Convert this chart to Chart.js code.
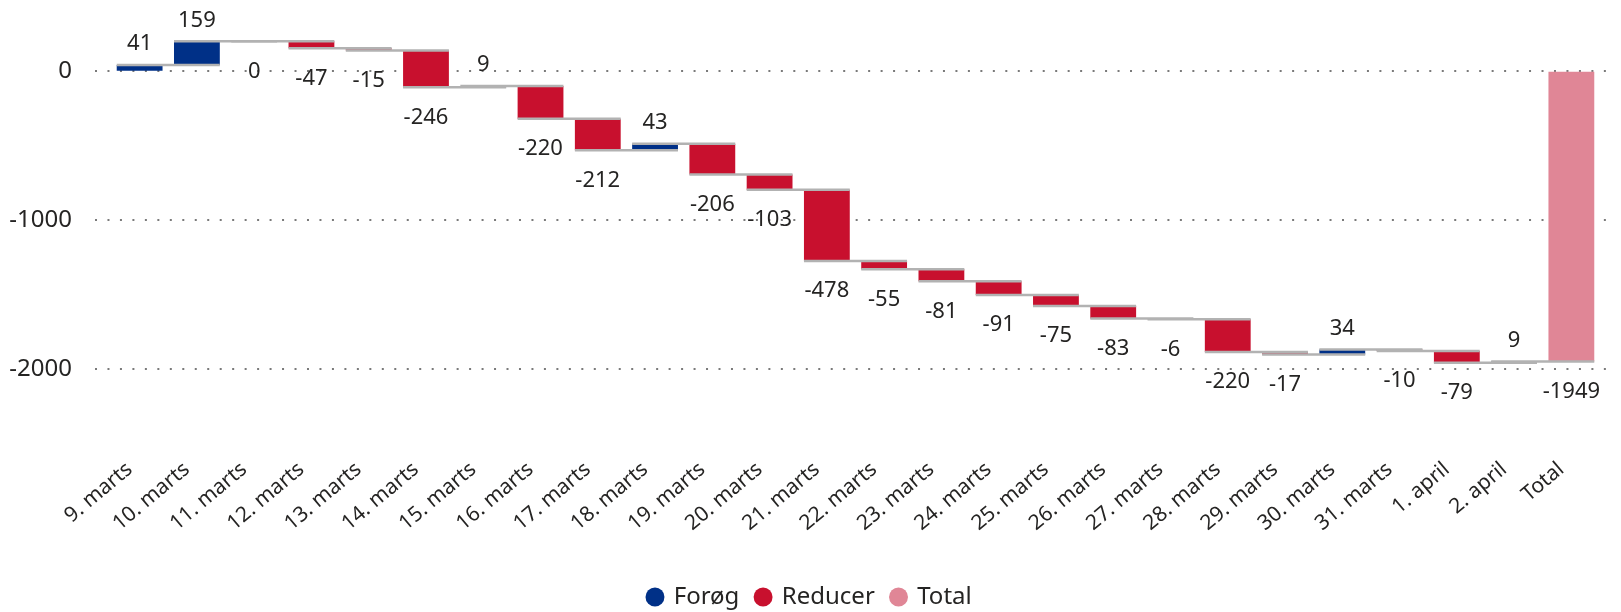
<!DOCTYPE html>
<html>
<head>
<meta charset="utf-8">
<script src="https://cdn.jsdelivr.net/npm/chart.js@4/dist/chart.umd.min.js"></script>
<style>
  html, body { margin: 0; padding: 0; background: #ffffff; }
  #wrap { width: 1621px; height: 612px; }
</style>
</head>
<body>
<div id="wrap"><canvas id="c" width="1621" height="612"></canvas></div>
<script>
// ---- data ----
const categories = ['9. marts','10. marts','11. marts','12. marts','13. marts','14. marts','15. marts',
  '16. marts','17. marts','18. marts','19. marts','20. marts','21. marts','22. marts','23. marts',
  '24. marts','25. marts','26. marts','27. marts','28. marts','29. marts','30. marts','31. marts',
  '1. april','2. april','Total'];
const changes = [41,159,0,-47,-15,-246,9,-220,-212,43,-206,-103,-478,-55,-81,-91,-75,-83,-6,-220,-17,34,-10,-79,9];
const totalValue = -1949;
const yTickValues = [0, -1000, -2000];
const seriesNames = ['Forøg', 'Reducer', 'Total'];

// ---- build waterfall ranges ----
const starts = [], ends = [];
let run = 0;
changes.forEach(v => { starts.push(run); run += v; ends.push(run); });

const incData = categories.map((c, i) => (i < changes.length && changes[i] > 0) ? [starts[i], ends[i]] : null);
const decData = categories.map((c, i) => (i < changes.length && changes[i] <= 0) ? [starts[i], ends[i]] : null);
const totData = categories.map((c, i) => (i === categories.length - 1) ? [0, totalValue] : null);
const labelValues = changes.concat([totalValue]);

const FONT = "'Noto Sans', 'Open Sans', sans-serif";
const TEXT = '#252423';
const EDGE = '#b2b2b2';

function barElement(chart, i) {
  for (let d = 0; d < chart.data.datasets.length; d++) {
    if (chart.data.datasets[d].data[i] != null) return chart.getDatasetMeta(d).data[i];
  }
  return null;
}

const wfPlugin = {
  id: 'waterfallExtras',
  afterLayout(chart) {
    // centre the legend row like the reference
    if (chart.legend) { chart.legend.left += 10; chart.legend.right += 10; }
  },
  beforeDatasetsDraw(chart) {
    const ctx = chart.ctx, y = chart.scales.y;
    ctx.save();
    ctx.strokeStyle = '#7a7a7a';
    ctx.lineWidth = 2;
    ctx.setLineDash([2, 10.47]);
    y.ticks.forEach(t => {
      const py = Math.round(y.getPixelForValue(t.value));
      ctx.beginPath();
      ctx.moveTo(95, py);
      ctx.lineTo(1615, py);
      ctx.stroke();
    });
    ctx.restore();
  },
  afterDatasetsDraw(chart) {
    const ctx = chart.ctx, y = chart.scales.y;
    // grey step lines: level reached after each bar, from this bar to the next one
    ctx.save();
    ctx.strokeStyle = EDGE;
    ctx.lineWidth = 2.5;
    for (let i = 0; i < changes.length; i++) {
      const a = barElement(chart, i), b = barElement(chart, i + 1);
      if (!a || !b) continue;
      const py = y.getPixelForValue(ends[i]);
      ctx.beginPath();
      ctx.moveTo(a.x - a.width / 2, py);
      ctx.lineTo(b.x + b.width / 2, py);
      ctx.stroke();
    }
    ctx.restore();
    // value labels
    ctx.save();
    ctx.font = "22px " + FONT;
    ctx.fillStyle = TEXT;
    ctx.textAlign = 'center';
    ctx.textBaseline = 'middle';
    chart.data.datasets.forEach((ds, di) => {
      const meta = chart.getDatasetMeta(di);
      meta.data.forEach((el, i) => {
        if (ds.data[i] == null) return;
        const v = labelValues[i];
        const top = Math.min(el.y, el.base), bot = Math.max(el.y, el.base);
        const py = v > 0 ? top - 21 : bot + 30;
        ctx.fillText(String(v), el.x, py);
      });
    });
    ctx.restore();
  }
};

const common = { grouped: false, borderWidth: 0, barPercentage: 0.8, categoryPercentage: 1 };

new Chart(document.getElementById('c'), {
  type: 'bar',
  data: {
    labels: categories,
    datasets: [
      Object.assign({ label: seriesNames[0], data: incData, backgroundColor: '#003087' }, common),
      Object.assign({ label: seriesNames[1], data: decData, backgroundColor: '#c8102e' }, common),
      Object.assign({ label: seriesNames[2], data: totData, backgroundColor: '#e08696' }, common)
    ]
  },
  options: {
    responsive: false,
    animation: false,
    layout: { padding: { top: 0, right: 21, left: 0, bottom: -7 } },
    plugins: {
      tooltip: { enabled: false },
      legend: {
        position: 'bottom',
        labels: {
          usePointStyle: true, pointStyle: 'circle',
          boxWidth: 13.4, boxHeight: 13.4,
          padding: 17,
          color: TEXT,
          font: { size: 24, family: FONT },
          generateLabels(chart) {
            return Chart.defaults.plugins.legend.labels.generateLabels(chart)
              .map(l => Object.assign(l, { lineWidth: 0, strokeStyle: 'rgba(0,0,0,0)' }));
          }
        }
      }
    },
    scales: {
      x: {
        grid: { display: false, drawTicks: false },
        border: { display: false },
        afterFit(s) { s.height = 120; },
        ticks: { color: TEXT, font: { size: 21, family: FONT }, minRotation: 40, maxRotation: 40,
                 autoSkip: false, padding: 9, labelOffset: -10 }
      },
      y: {
        min: -2530, max: 381,
        grid: { display: true, drawOnChartArea: false, drawTicks: true, tickLength: 39,
                tickColor: 'rgba(0,0,0,0)', color: 'rgba(0,0,0,0)' },
        border: { display: false },
        afterBuildTicks(s) { s.ticks = yTickValues.map(v => ({ value: v })); },
        afterFit(s) { s.width = 111; },
        ticks: { color: TEXT, font: { size: 24, family: FONT }, padding: 0,
                 callback: v => String(v) }
      }
    }
  },
  plugins: [wfPlugin]
});
</script>
</body>
</html>
